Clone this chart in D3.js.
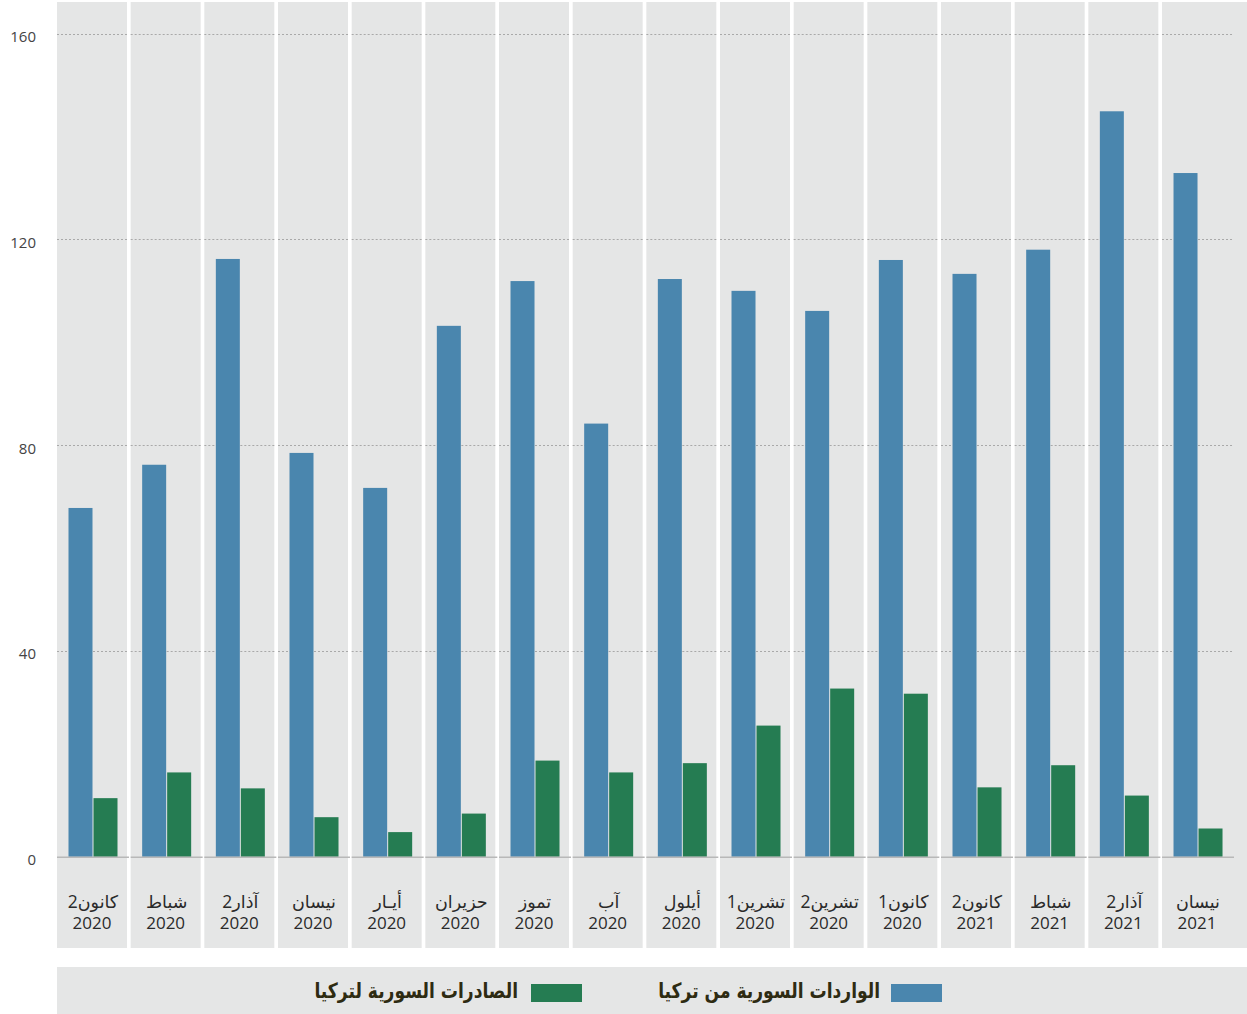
<!DOCTYPE html>
<html>
<head>
<meta charset="utf-8">
<script src="https://cdn.jsdelivr.net/npm/d3@7"></script>
<style>
  html, body { margin: 0; padding: 0; background: #ffffff; }
  svg { display: block; }
</style>
</head>
<body>
<svg id="chart" width="1247" height="1014"></svg>
<script>
const months = ["كانون2", "شباط", "آذار2", "نيسان", "أيـار", "حزيران", "تموز", "آب", "أيلول", "تشرين1", "تشرين2", "كانون1", "كانون2", "شباط", "آذار2", "نيسان"];
const years = ["2020", "2020", "2020", "2020", "2020", "2020", "2020", "2020", "2020", "2020", "2020", "2020", "2021", "2021", "2021", "2021"];
const imports = [67.8, 76.2, 116.2, 78.5, 71.7, 103.2, 111.9, 84.2, 112.3, 110.0, 106.1, 116.0, 113.3, 118.0, 144.9, 132.9];
const exports_ = [11.4, 16.4, 13.3, 7.7, 4.8, 8.4, 18.7, 16.4, 18.2, 25.5, 32.7, 31.7, 13.5, 17.8, 11.9, 5.5];
const seriesNames = ["الواردات السورية من تركيا", "الصادرات السورية لتركيا"];
const yTicks = [0, 40, 80, 120, 160];

const colors = ["#4a86ae", "#257c52"];
const keys = ["imp", "exp"];
const data = months.map((m, i) => ({ id: i, month: m, year: years[i], imp: imports[i], exp: exports_[i] }));

const svg = d3.select("#chart");
const W = 1247;

const x = d3.scaleBand().domain(data.map(d => d.id)).range([57, 1232]).paddingInner(0.05).paddingOuter(0);
const x1 = d3.scaleBand().domain(keys).range([11.5, 60.5]).paddingInner(0.04);
const y = d3.scaleLinear().domain([0, 160]).range([856.8, 33.6]);

const panelTop = 2, panelBottom = 948;

const g = svg.append("g");
const panels = g.selectAll("g.panel").data(data).join("g")
  .attr("class", "panel")
  .attr("transform", d => `translate(${x(d.id)},0)`);

panels.append("rect")
  .attr("x", 0).attr("y", panelTop)
  .attr("width", (d, i) => i === data.length - 1 ? W - x(d.id) : x.bandwidth())
  .attr("height", panelBottom - panelTop)
  .attr("fill", "#e5e6e6");

yTicks.filter(t => t > 0).forEach(t => {
  panels.append("line")
    .attr("x1", 0).attr("x2", x.bandwidth() + 2)
    .attr("y1", Math.round(y(t)) + 0.5).attr("y2", Math.round(y(t)) + 0.5)
    .attr("stroke", "#a9a9a9").attr("stroke-width", 1)
    .attr("stroke-dasharray", "2,2");
});

panels.selectAll("rect.bar").data(d => keys.map(k => ({ key: k, value: d[k] }))).join("rect")
  .attr("class", "bar")
  .attr("x", d => x1(d.key))
  .attr("width", x1.bandwidth())
  .attr("y", d => y(d.value))
  .attr("height", d => y(0) - y(d.value))
  .attr("fill", (d, i) => colors[i]);

panels.append("line")
  .attr("x1", 0).attr("x2", x.bandwidth() + 2)
  .attr("y1", y(0) + 0.5).attr("y2", y(0) + 0.5)
  .attr("stroke", "#b8b8b8").attr("stroke-width", 1.6);

const catFont = "'Open Sans', 'DejaVu Sans', sans-serif";
panels.append("text")
  .attr("x", x.bandwidth() / 2 + 1).attr("y", 908)
  .attr("text-anchor", "middle")
  .attr("direction", "rtl")
  .attr("font-family", catFont).attr("font-size", 17.5)
  .attr("fill", "#2a2a2a")
  .text(d => d.month);
panels.append("text")
  .attr("x", x.bandwidth() / 2).attr("y", 929)
  .attr("text-anchor", "middle")
  .attr("font-family", catFont).attr("font-size", 17)
  .attr("fill", "#2a2a2a")
  .text(d => d.year);

const yAxis = d3.axisLeft(y).tickValues(yTicks).tickSize(0).tickPadding(0).tickFormat(d3.format("d"));
const ya = svg.append("g").attr("transform", "translate(36,3)").call(yAxis);
ya.select(".domain").remove();
ya.selectAll("text")
  .attr("font-family", "'Open Sans', sans-serif")
  .attr("font-size", 15)
  .attr("fill", "#444");

svg.append("rect").attr("x", 57).attr("y", 967).attr("width", W - 57).attr("height", 47).attr("fill", "#e5e6e6");
const legendItems = [
  { name: seriesNames[0], color: colors[0], sx: 891, tx: 880 },
  { name: seriesNames[1], color: colors[1], sx: 531, tx: 518 }
];
const lg = svg.append("g").selectAll("g").data(legendItems).join("g");
lg.append("rect")
  .attr("x", d => d.sx).attr("y", 984).attr("width", 51).attr("height", 18)
  .attr("fill", d => d.color);
lg.append("text")
  .attr("transform", d => `translate(${d.tx},998) scale(0.815,1)`)
  .attr("text-anchor", "end")
  .attr("font-family", "'DejaVu Sans', sans-serif")
  .attr("font-weight", "bold")
  .attr("font-size", 21)
  .attr("fill", "#2e2b12")
  .text(d => d.name);
</script>
</body>
</html>
